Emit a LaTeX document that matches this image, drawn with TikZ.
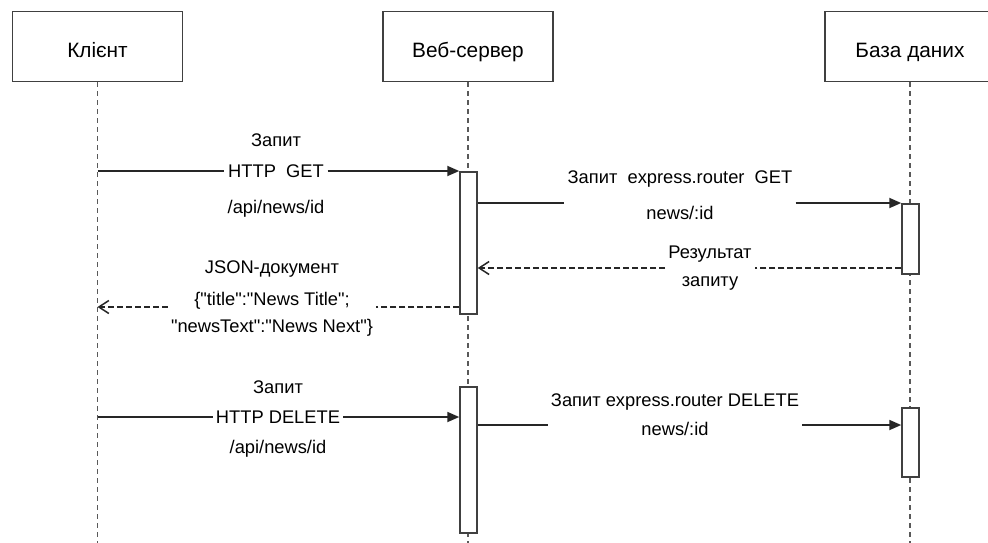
\documentclass[tikz,border=0pt]{standalone}
\usepackage{fontspec}
\setmainfont{Liberation Sans}[Ligatures=TeXOff]
\usetikzlibrary{calc,arrows.meta}
\colorlet{box_line}{black!75}
\colorlet{life_line}{black!65}
\colorlet{msg_line}{black!85}
\tikzset{
    actor_box/.style={draw=box_line,line width=1.6pt,fill=white,minimum width=170pt,minimum height=70pt,
        text height=27pt,text depth=5pt,font=\fontsize{20.8}{24}\selectfont},
    activation/.style={draw=box_line,line width=1.5pt,fill=white,minimum width=17pt,anchor=north,inner sep=0pt},
    lifeline/.style={life_line,line width=1.5pt,dash pattern=on 5pt off 4pt},
    msg_call/.style={-{Triangle[length=12pt,width=10pt]},line width=1.8pt,msg_line},
    msg_plain/.style={line width=1.8pt,msg_line},
    msg_return/.style={-{Straight Barb[length=10pt,width=13pt]},line width=1.5pt,msg_line,dash pattern=on 6pt off 3pt},
    msg_return_plain/.style={line width=1.5pt,msg_line,dash pattern=on 6pt off 3pt},
    msg_label/.style={align=center,anchor=base,inner xsep=3pt,inner ysep=0pt,font=\fontsize{18.3}{30}\selectfont},
}

\begin{document}
\begin{tikzpicture}[x=1pt,y=-1pt]
  \clip (0,0) rectangle (988,542);
  \fill[white] (0,0) rectangle (988,542);
  % Participants
  \node[actor_box] (client) at (97.5,46.5) {Клієнт};
  \node[actor_box] (server) at (468,46.5) {Веб-сервер};
  \node[actor_box] (db) at (910,46.5) {База даних};
  % Lifelines
  \coordinate (bottom) at (0,545);
  \draw[lifeline] (client.south) -- (client.south |- bottom);
  \draw[lifeline] (server.south) -- (server.south |- bottom);
  \draw[lifeline] (db.south) -- (db.south |- bottom);
  % Activation boxes
  \node[activation,minimum height=142pt] (srv_act1) at (468.5,171) {};
  \node[activation,minimum height=70pt] (db_act1) at (910.5,203) {};
  \node[activation,minimum height=146pt] (srv_act2) at (468.5,386) {};
  \node[activation,minimum height=69pt] (db_act2) at (910.5,407) {};
  % Message labels (anchored on the last line)
  \node[msg_label] (get_lbl) at (276,213) {Запит\\[1pt]HTTP\ \ GET\\[6pt]/api/news/id};
  \node[msg_label] (get_db_lbl) at (680,219) {Запит\ \ express.router\ \ GET\\[6pt]news/:id};
  \node[msg_label] (res_lbl) at (710,286) {Результат\\[-2pt]запиту};
  \node[msg_label] (json_lbl) at (272,332) {JSON-документ\\[2pt]\{"title":"News Title";\\[-3pt]"newsText":"News Next"\}};
  \node[msg_label] (del_lbl) at (278,453) {Запит\\HTTP DELETE\\/api/news/id};
  \node[msg_label] (del_db_lbl) at (675,435) {Запит\ express.router\ DELETE\\[-1pt]news/:id};
  % Messages
  \coordinate (res_y) at (0,268);
  \coordinate (json_y) at (0,307);
  \coordinate (del_y) at (0,417);
  \coordinate (del_db_y) at (0,425);
  \draw[msg_plain] (client |- srv_act1.north) -- (get_lbl.west |- srv_act1.north);
  \draw[msg_call] (get_lbl.east |- srv_act1.north) -- (srv_act1.north west);
  \draw[msg_plain] (srv_act1.east |- db_act1.north) -- (get_db_lbl.west |- db_act1.north);
  \draw[msg_call] (get_db_lbl.east |- db_act1.north) -- (db_act1.north west);
  \draw[msg_return_plain] (db_act1.west |- res_y) -- (res_lbl.east |- res_y);
  \draw[msg_return] (res_lbl.west |- res_y) -- (srv_act1.east |- res_y);
  \draw[msg_return_plain] (srv_act1.west |- json_y) -- (json_lbl.east |- json_y);
  \draw[msg_return] (json_lbl.west |- json_y) -- (client |- json_y);
  \draw[msg_plain] (client |- del_y) -- (del_lbl.west |- del_y);
  \draw[msg_call] (del_lbl.east |- del_y) -- (srv_act2.west |- del_y);
  \draw[msg_plain] (srv_act2.east |- del_db_y) -- (del_db_lbl.west |- del_db_y);
  \draw[msg_call] (del_db_lbl.east |- del_db_y) -- (db_act2.west |- del_db_y);
\end{tikzpicture}
\end{document}
